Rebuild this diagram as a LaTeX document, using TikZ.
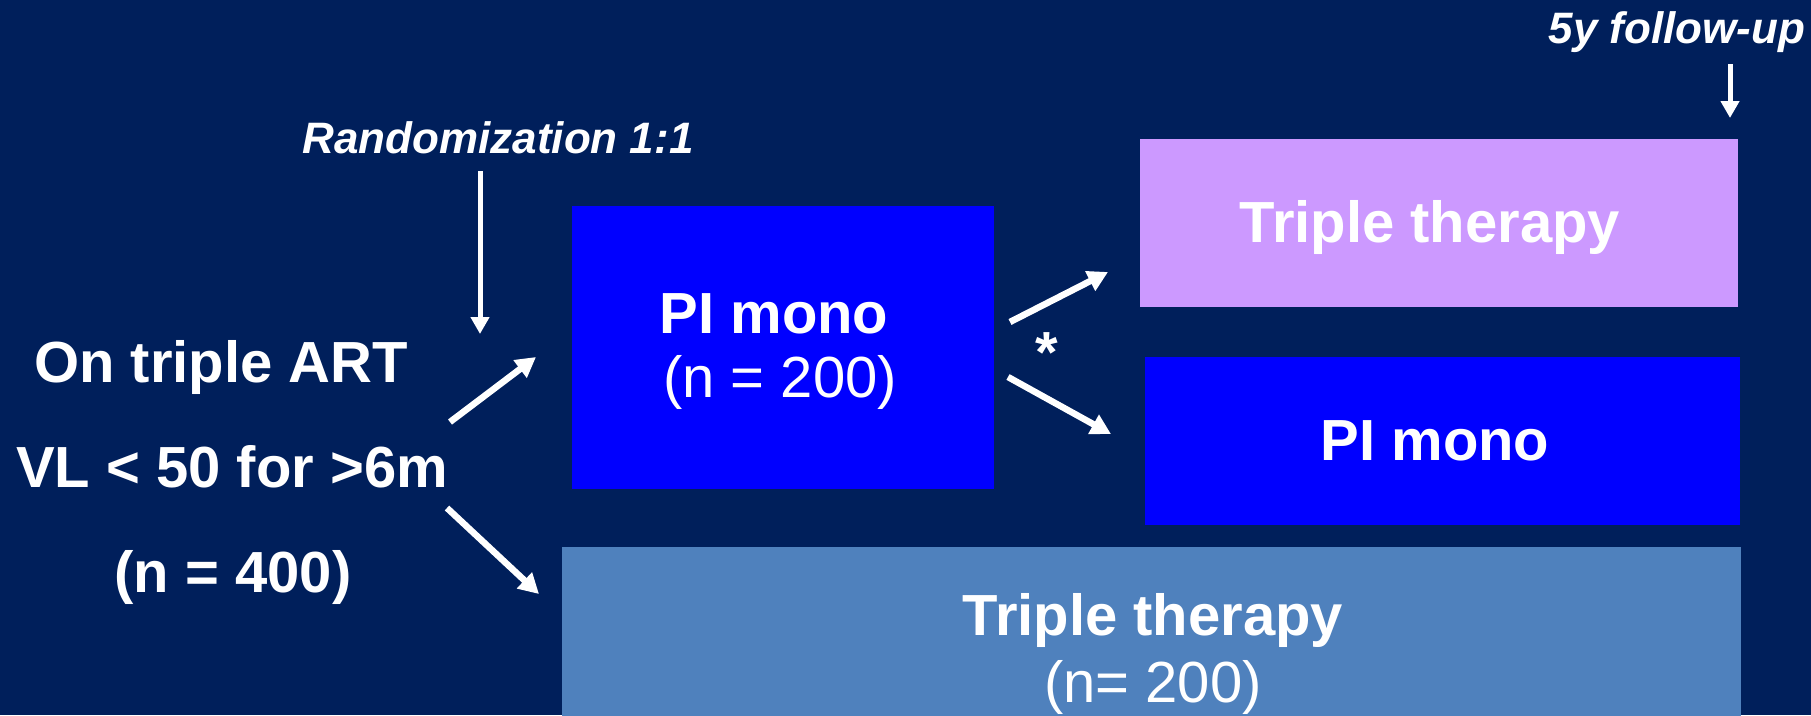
\documentclass[tikz,border=0pt]{standalone}
\usepackage{fontspec}
\setmainfont{Liberation Sans}
\usetikzlibrary{arrows.meta}
\definecolor{navybg}{RGB}{0,31,91}
\definecolor{monoblue}{RGB}{0,0,255}
\definecolor{lavender}{RGB}{204,153,255}
\definecolor{steel}{RGB}{79,129,189}
\tikzset{
  box/.style={anchor=north west, inner sep=0pt, outer sep=0pt, draw=none},
  big/.style={anchor=base, inner sep=0pt, text=white, font=\fontsize{58}{60}\selectfont\bfseries},
  bigreg/.style={anchor=base, inner sep=0pt, text=white, font=\fontsize{58}{60}\selectfont},
  note/.style={anchor=base, inner sep=0pt, text=white, font=\fontsize{44}{46}\selectfont\bfseries\itshape},
  thinarrow/.style={draw=white, line width=5pt, -{Triangle[length=17pt,width=18pt]}},
  thickarrow/.style={draw=white, line width=6.5pt, -{Triangle[length=20pt,width=21pt]}},
}
\begin{document}
\begin{tikzpicture}[x=1pt, y=-1pt]
  % background
  \fill[navybg] (0,0) rectangle (1811,715);
  \useasboundingbox (0,0) rectangle (1811,715);

  % boxes
  \node[box, fill=monoblue, minimum width=422pt, minimum height=283pt] (pimono) at (572,206) {};
  \node[box, fill=lavender, minimum width=598pt, minimum height=168pt] (tripletop) at (1140,139) {};
  \node[box, fill=monoblue, minimum width=595pt, minimum height=168pt] (pimonoright) at (1145,357) {};
  \node[box, fill=steel, minimum width=1179pt, minimum height=170pt] (triplebottom) at (562,547) {};

  % left description
  \node[big] (ontriple) at (221,382) {On triple ART};
  \node[big] (vl) at (232,487) {VL < 50 for >6m};
  \node[big] (n400) at (233,592) {(n = 400)};

  % box labels
  \node[big] (pimonolbl) at (774,333) {PI mono};
  \node[bigreg] (n200a) at (780,397) {(n = 200)};
  \node[big] (tripletoplbl) at (1430,242) {Triple therapy};
  \node[big] (pimonorightlbl) at (1435,460) {PI mono};
  \node[big] (triplebottomlbl) at (1153,635) {Triple therapy};
  \node[bigreg] (n200b) at (1153,702) {(n= 200)};

  % annotations
  \node[note] (rand) at (498,153) {Randomization 1:1};
  \node[note] (follow) at (1677,43) {5y follow-up};
  \node[big] (star) at (1047,372) {*};

  % arrow end points
  \coordinate (randA) at (480,171);
  \coordinate (randB) at (480,334);
  \coordinate (folA) at (1730,64);
  \coordinate (folB) at (1730,118);
  \coordinate (upA) at (450,422);
  \coordinate (upB) at (536,357);
  \coordinate (dnA) at (447,508);
  \coordinate (dnB) at (539,594);
  \coordinate (swA) at (1010,322);
  \coordinate (swB) at (1108,272);
  \coordinate (stA) at (1008,377);
  \coordinate (stB) at (1111,434);

  % connectors
  \draw[thinarrow] (randA) -- (randB);
  \draw[thinarrow] (folA) -- (folB);
  \draw[thickarrow] (upA) -- (upB);
  \draw[thickarrow] (dnA) -- (dnB);
  \draw[thickarrow] (swA) -- (swB);
  \draw[thickarrow] (stA) -- (stB);
\end{tikzpicture}
\end{document}
